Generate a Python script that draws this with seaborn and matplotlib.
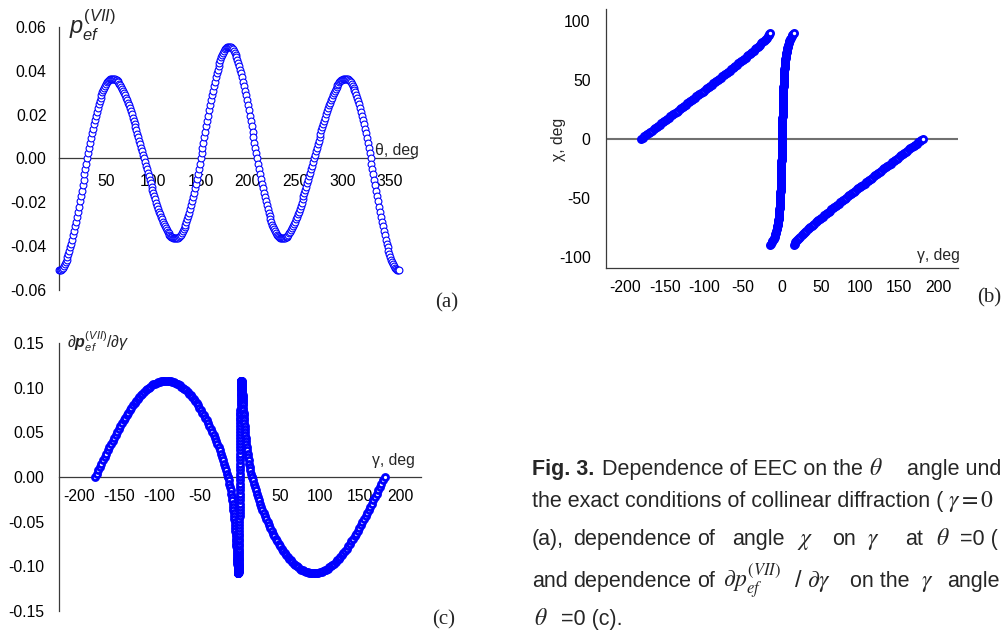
import numpy as np
import matplotlib
matplotlib.use("Agg")
import matplotlib.pyplot as plt
import seaborn as sns
from matplotlib.ticker import MultipleLocator, FixedLocator, FormatStrFormatter

sns.set_theme(style="white")
plt.rcParams['font.family'] = ['Liberation Sans', 'DejaVu Sans']
plt.rcParams['axes.unicode_minus'] = False
plt.rcParams['mathtext.fontset'] = 'custom'
plt.rcParams['mathtext.rm'] = 'Liberation Sans'
plt.rcParams['mathtext.it'] = 'Liberation Sans:italic'
plt.rcParams['mathtext.bf'] = 'Liberation Sans:italic:bold'
plt.rcParams['mathtext.fallback'] = 'stix'

# ---------------- data ----------------
# (a) p_ef^(VII) versus theta, theta = 0..360 deg in 1 deg steps
THETA = np.arange(0, 361)
P_EF = [
    -0.0510, -0.0509, -0.0507, -0.0503, -0.0498, -0.0491, -0.0483, -0.0473, -0.0462, -0.0450,
    -0.0436, -0.0422, -0.0406, -0.0388, -0.0370, -0.0351, -0.0331, -0.0310, -0.0289, -0.0266,
    -0.0243, -0.0220, -0.0196, -0.0172, -0.0147, -0.0123, -0.0098, -0.0073, -0.0049, -0.0024,
    0.0000, 0.0024, 0.0047, 0.0071, 0.0093, 0.0115, 0.0136, 0.0157, 0.0177, 0.0196,
    0.0214, 0.0231, 0.0247, 0.0262, 0.0277, 0.0290, 0.0302, 0.0313, 0.0323, 0.0332,
    0.0340, 0.0347, 0.0352, 0.0357, 0.0361, 0.0363, 0.0364, 0.0365, 0.0364, 0.0363,
    0.0360, 0.0357, 0.0352, 0.0347, 0.0341, 0.0334, 0.0326, 0.0318, 0.0309, 0.0299,
    0.0289, 0.0278, 0.0266, 0.0254, 0.0242, 0.0229, 0.0215, 0.0201, 0.0187, 0.0173,
    0.0158, 0.0143, 0.0128, 0.0112, 0.0096, 0.0081, 0.0065, 0.0049, 0.0032, 0.0016,
    0.0000,
    -0.0016, -0.0032, -0.0049, -0.0065, -0.0081, -0.0096, -0.0112, -0.0128, -0.0143, -0.0158,
    -0.0173, -0.0187, -0.0201, -0.0215, -0.0229, -0.0242, -0.0254, -0.0266, -0.0278, -0.0289,
    -0.0299, -0.0309, -0.0318, -0.0326, -0.0334, -0.0341, -0.0347, -0.0352, -0.0357, -0.0360,
    -0.0363, -0.0364, -0.0365, -0.0364, -0.0363, -0.0361, -0.0357, -0.0352, -0.0347, -0.0340,
    -0.0332, -0.0323, -0.0313, -0.0302, -0.0290, -0.0277, -0.0262, -0.0247, -0.0231, -0.0214,
    -0.0196, -0.0177, -0.0157, -0.0136, -0.0115, -0.0093, -0.0071, -0.0047, -0.0024, 0.0000,
    0.0024, 0.0049, 0.0073, 0.0098, 0.0123, 0.0147, 0.0172, 0.0196, 0.0220, 0.0243,
    0.0266, 0.0289, 0.0310, 0.0331, 0.0351, 0.0370, 0.0388, 0.0406, 0.0422, 0.0436,
    0.0450, 0.0462, 0.0473, 0.0483, 0.0491, 0.0498, 0.0503, 0.0507, 0.0509, 0.0510,
    0.0509, 0.0507, 0.0503, 0.0498, 0.0491, 0.0483, 0.0473, 0.0462, 0.0450, 0.0436,
    0.0422, 0.0406, 0.0388, 0.0370, 0.0351, 0.0331, 0.0310, 0.0289, 0.0266, 0.0243,
    0.0220, 0.0196, 0.0172, 0.0147, 0.0123, 0.0098, 0.0073, 0.0049, 0.0024, 0.0000,
    -0.0024, -0.0047, -0.0071, -0.0093, -0.0115, -0.0136, -0.0157, -0.0177, -0.0196, -0.0214,
    -0.0231, -0.0247, -0.0262, -0.0277, -0.0290, -0.0302, -0.0313, -0.0323, -0.0332, -0.0340,
    -0.0347, -0.0352, -0.0357, -0.0361, -0.0363, -0.0364, -0.0365, -0.0364, -0.0363, -0.0360,
    -0.0357, -0.0352, -0.0347, -0.0341, -0.0334, -0.0326, -0.0318, -0.0309, -0.0299, -0.0289,
    -0.0278, -0.0266, -0.0254, -0.0242, -0.0229, -0.0215, -0.0201, -0.0187, -0.0173, -0.0158,
    -0.0143, -0.0128, -0.0112, -0.0096, -0.0081, -0.0065, -0.0049, -0.0032, -0.0016, 0.0000,
    0.0016, 0.0032, 0.0049, 0.0065, 0.0081, 0.0096, 0.0112, 0.0128, 0.0143, 0.0158,
    0.0173, 0.0187, 0.0201, 0.0215, 0.0229, 0.0242, 0.0254, 0.0266, 0.0278, 0.0289,
    0.0299, 0.0309, 0.0318, 0.0326, 0.0334, 0.0341, 0.0347, 0.0352, 0.0357, 0.0360,
    0.0363, 0.0364, 0.0365, 0.0364, 0.0363, 0.0361, 0.0357, 0.0352, 0.0347, 0.0340,
    0.0332, 0.0323, 0.0313, 0.0302, 0.0290, 0.0277, 0.0262, 0.0247, 0.0231, 0.0214,
    0.0196, 0.0177, 0.0157, 0.0136, 0.0115, 0.0093, 0.0071, 0.0047, 0.0024, 0.0000,
    -0.0024, -0.0049, -0.0073, -0.0098, -0.0123, -0.0147, -0.0172, -0.0196, -0.0220, -0.0243,
    -0.0266, -0.0289, -0.0310, -0.0331, -0.0351, -0.0370, -0.0388, -0.0406, -0.0422, -0.0436,
    -0.0450, -0.0462, -0.0473, -0.0483, -0.0491, -0.0498, -0.0503, -0.0507, -0.0509, -0.0510,
]

# (b), (c): three branches, sampled in chi at 1 deg steps
CHI_LEFT = np.arange(0, 91)       # chi = 0 .. 90
CHI_CENTRE = np.arange(-90, 91)   # chi = -90 .. 90
CHI_RIGHT = np.arange(-90, 1)     # chi = -90 .. 0

GAMMA_LEFT = [
    -180.00, -178.03, -176.07, -174.10, -172.14, -170.17, -168.21, -166.24, -164.27, -162.31,
    -160.34, -158.38, -156.41, -154.45, -152.49, -150.52, -148.56, -146.60, -144.63, -142.67,
    -140.71, -138.75, -136.79, -134.83, -132.87, -130.91, -128.95, -126.99, -125.03, -123.08,
    -121.12, -119.17, -117.21, -115.26, -113.31, -111.36, -109.41, -107.46, -105.51, -103.56,
    -101.62, -99.68, -97.73, -95.79, -93.86, -91.92, -89.99, -88.05, -86.12, -84.20,
    -82.27, -80.35, -78.43, -76.52, -74.61, -72.70, -70.79, -68.89, -67.00, -65.11,
    -63.23, -61.35, -59.48, -57.61, -55.75, -53.90, -52.06, -50.23, -48.42, -46.61,
    -44.81, -43.03, -41.27, -39.53, -37.80, -36.09, -34.41, -32.75, -31.12, -29.53,
    -27.96, -26.44, -24.96, -23.52, -22.13, -20.79, -19.51, -18.29, -17.13, -16.03,
    -15.00,
]
GAMMA_CENTRE = [
    -15.00, -14.03, -13.13, -12.29, -11.51, -10.79, -10.13, -9.52, -8.96, -8.44,
    -7.96, -7.53, -7.12, -6.75, -6.41, -6.09, -5.80, -5.53, -5.27, -5.03,
    -4.81, -4.61, -4.42, -4.23, -4.06, -3.90, -3.75, -3.61, -3.48, -3.35,
    -3.23, -3.11, -3.00, -2.89, -2.79, -2.70, -2.61, -2.52, -2.43, -2.35,
    -2.27, -2.20, -2.12, -2.05, -1.99, -1.92, -1.86, -1.79, -1.73, -1.68,
    -1.62, -1.56, -1.51, -1.46, -1.41, -1.36, -1.31, -1.26, -1.21, -1.17,
    -1.12, -1.08, -1.03, -0.99, -0.95, -0.91, -0.87, -0.83, -0.79, -0.75,
    -0.71, -0.67, -0.63, -0.60, -0.56, -0.52, -0.49, -0.45, -0.41, -0.38,
    -0.34, -0.31, -0.27, -0.24, -0.21, -0.17, -0.14, -0.10, -0.07, -0.03,
    0.00,
    0.03, 0.07, 0.10, 0.14, 0.17, 0.21, 0.24, 0.27, 0.31, 0.34,
    0.38, 0.41, 0.45, 0.49, 0.52, 0.56, 0.60, 0.63, 0.67, 0.71,
    0.75, 0.79, 0.83, 0.87, 0.91, 0.95, 0.99, 1.03, 1.08, 1.12,
    1.17, 1.21, 1.26, 1.31, 1.36, 1.41, 1.46, 1.51, 1.56, 1.62,
    1.68, 1.73, 1.79, 1.86, 1.92, 1.99, 2.05, 2.12, 2.20, 2.27,
    2.35, 2.43, 2.52, 2.61, 2.70, 2.79, 2.89, 3.00, 3.11, 3.23,
    3.35, 3.48, 3.61, 3.75, 3.90, 4.06, 4.23, 4.42, 4.61, 4.81,
    5.03, 5.27, 5.53, 5.80, 6.09, 6.41, 6.75, 7.12, 7.53, 7.96,
    8.44, 8.96, 9.52, 10.13, 10.79, 11.51, 12.29, 13.13, 14.03, 15.00,
]
GAMMA_RIGHT = [
    15.00, 16.03, 17.13, 18.29, 19.51, 20.79, 22.13, 23.52, 24.96, 26.44,
    27.96, 29.53, 31.12, 32.75, 34.41, 36.09, 37.80, 39.53, 41.27, 43.03,
    44.81, 46.61, 48.42, 50.23, 52.06, 53.90, 55.75, 57.61, 59.48, 61.35,
    63.23, 65.11, 67.00, 68.89, 70.79, 72.70, 74.61, 76.52, 78.43, 80.35,
    82.27, 84.20, 86.12, 88.05, 89.99, 91.92, 93.86, 95.79, 97.73, 99.68,
    101.62, 103.56, 105.51, 107.46, 109.41, 111.36, 113.31, 115.26, 117.21, 119.17,
    121.12, 123.08, 125.03, 126.99, 128.95, 130.91, 132.87, 134.83, 136.79, 138.75,
    140.71, 142.67, 144.63, 146.60, 148.56, 150.52, 152.49, 154.45, 156.41, 158.38,
    160.34, 162.31, 164.27, 166.24, 168.21, 170.17, 172.14, 174.10, 176.07, 178.03,
    180.00,
]

DP_LEFT = [
    0.0000, 0.0038, 0.0075, 0.0113, 0.0150, 0.0188, 0.0225, 0.0261, 0.0298, 0.0334,
    0.0369, 0.0405, 0.0439, 0.0473, 0.0507, 0.0540, 0.0572, 0.0604, 0.0635, 0.0665,
    0.0694, 0.0723, 0.0750, 0.0777, 0.0803, 0.0827, 0.0851, 0.0874, 0.0895, 0.0916,
    0.0935, 0.0954, 0.0971, 0.0987, 0.1001, 0.1015, 0.1027, 0.1038, 0.1048, 0.1056,
    0.1064, 0.1069, 0.1074, 0.1077, 0.1079, 0.1080, 0.1079, 0.1077, 0.1074, 0.1069,
    0.1064, 0.1056, 0.1048, 0.1038, 0.1027, 0.1015, 0.1001, 0.0987, 0.0971, 0.0954,
    0.0935, 0.0916, 0.0895, 0.0874, 0.0851, 0.0827, 0.0803, 0.0777, 0.0750, 0.0723,
    0.0694, 0.0665, 0.0635, 0.0604, 0.0572, 0.0540, 0.0507, 0.0473, 0.0439, 0.0405,
    0.0369, 0.0334, 0.0298, 0.0261, 0.0225, 0.0188, 0.0150, 0.0113, 0.0075, 0.0038,
    0.0000,
]
DP_CENTRE = [
    0.0000, -0.0038, -0.0075, -0.0113, -0.0150, -0.0188, -0.0225, -0.0261, -0.0298, -0.0334,
    -0.0369, -0.0405, -0.0439, -0.0473, -0.0507, -0.0540, -0.0572, -0.0604, -0.0635, -0.0665,
    -0.0694, -0.0723, -0.0750, -0.0777, -0.0803, -0.0827, -0.0851, -0.0874, -0.0895, -0.0916,
    -0.0935, -0.0954, -0.0971, -0.0987, -0.1001, -0.1015, -0.1027, -0.1038, -0.1048, -0.1056,
    -0.1064, -0.1069, -0.1074, -0.1077, -0.1079, -0.1080, -0.1079, -0.1077, -0.1074, -0.1069,
    -0.1064, -0.1056, -0.1048, -0.1038, -0.1027, -0.1015, -0.1001, -0.0987, -0.0971, -0.0954,
    -0.0935, -0.0916, -0.0895, -0.0874, -0.0851, -0.0827, -0.0803, -0.0777, -0.0750, -0.0723,
    -0.0694, -0.0665, -0.0635, -0.0604, -0.0572, -0.0540, -0.0507, -0.0473, -0.0439, -0.0405,
    -0.0369, -0.0334, -0.0298, -0.0261, -0.0225, -0.0188, -0.0150, -0.0113, -0.0075, -0.0038,
    0.0000,
    0.0038, 0.0075, 0.0113, 0.0150, 0.0188, 0.0225, 0.0261, 0.0298, 0.0334, 0.0369,
    0.0405, 0.0439, 0.0473, 0.0507, 0.0540, 0.0572, 0.0604, 0.0635, 0.0665, 0.0694,
    0.0723, 0.0750, 0.0777, 0.0803, 0.0827, 0.0851, 0.0874, 0.0895, 0.0916, 0.0935,
    0.0954, 0.0971, 0.0987, 0.1001, 0.1015, 0.1027, 0.1038, 0.1048, 0.1056, 0.1064,
    0.1069, 0.1074, 0.1077, 0.1079, 0.1080, 0.1079, 0.1077, 0.1074, 0.1069, 0.1064,
    0.1056, 0.1048, 0.1038, 0.1027, 0.1015, 0.1001, 0.0987, 0.0971, 0.0954, 0.0935,
    0.0916, 0.0895, 0.0874, 0.0851, 0.0827, 0.0803, 0.0777, 0.0750, 0.0723, 0.0694,
    0.0665, 0.0635, 0.0604, 0.0572, 0.0540, 0.0507, 0.0473, 0.0439, 0.0405, 0.0369,
    0.0334, 0.0298, 0.0261, 0.0225, 0.0188, 0.0150, 0.0113, 0.0075, 0.0038, 0.0000,
]
DP_RIGHT = [
    0.0000, -0.0038, -0.0075, -0.0113, -0.0150, -0.0188, -0.0225, -0.0261, -0.0298, -0.0334,
    -0.0369, -0.0405, -0.0439, -0.0473, -0.0507, -0.0540, -0.0572, -0.0604, -0.0635, -0.0665,
    -0.0694, -0.0723, -0.0750, -0.0777, -0.0803, -0.0827, -0.0851, -0.0874, -0.0895, -0.0916,
    -0.0935, -0.0954, -0.0971, -0.0987, -0.1001, -0.1015, -0.1027, -0.1038, -0.1048, -0.1056,
    -0.1064, -0.1069, -0.1074, -0.1077, -0.1079, -0.1080, -0.1079, -0.1077, -0.1074, -0.1069,
    -0.1064, -0.1056, -0.1048, -0.1038, -0.1027, -0.1015, -0.1001, -0.0987, -0.0971, -0.0954,
    -0.0935, -0.0916, -0.0895, -0.0874, -0.0851, -0.0827, -0.0803, -0.0777, -0.0750, -0.0723,
    -0.0694, -0.0665, -0.0635, -0.0604, -0.0572, -0.0540, -0.0507, -0.0473, -0.0439, -0.0405,
    -0.0369, -0.0334, -0.0298, -0.0261, -0.0225, -0.0188, -0.0150, -0.0113, -0.0075, -0.0038,
    0.0000,
]

A_XTICKS = [50, 100, 150, 200, 250, 300, 350]
B_YTICKS = [-100, -50, 0, 50, 100]

# ---------------- figure ----------------
W, H = 1005, 633
fig = plt.figure(figsize=(W / 100, H / 100), dpi=100)


def rect(x0, y0, x1, y1):
    return [x0 / W, 1 - y1 / H, (x1 - x0) / W, (y1 - y0) / H]


def px(x, y):
    return x / W, 1 - y / H


BLUE = '#0000ff'
SP = '#3a3a3a'
TS = 11.3


def style(ax, zero_axis=True):
    ax.set_facecolor('none')
    for s in ['top', 'right']:
        ax.spines[s].set_visible(False)
    for s in ['left', 'bottom']:
        ax.spines[s].set_color(SP)
        ax.spines[s].set_linewidth(0.9)
    if zero_axis:
        ax.spines['bottom'].set_position(('data', 0))
    ax.tick_params(which='both', direction='out', colors=SP, labelcolor='black',
                   labelsize=TS, width=0.8)
    ax.tick_params(which='major', length=4)
    ax.tick_params(which='minor', length=2)
    ax.grid(False)
    ax.set_xlabel('')
    ax.set_ylabel('')


# (a)
axA = fig.add_axes(rect(59, 27, 413, 290))
sns.scatterplot(x=THETA, y=P_EF, ax=axA, marker='o', s=24, color='white',
                edgecolor=BLUE, linewidth=0.8, legend=False, clip_on=False, zorder=3)
axA.set_xlim(0, 375)
axA.set_ylim(-0.06, 0.06)
style(axA)
axA.xaxis.set_major_locator(FixedLocator(A_XTICKS))
axA.xaxis.set_minor_locator(MultipleLocator(25))
axA.yaxis.set_major_locator(MultipleLocator(0.02))
axA.yaxis.set_minor_locator(MultipleLocator(0.01))
axA.yaxis.set_major_formatter(FormatStrFormatter('%.2f'))
axA.tick_params(axis='x', pad=7)
axA.tick_params(axis='y', pad=5)

# (b)
axB = fig.add_axes(rect(606, 9.3, 958, 268.3))
axB.axhline(0, color='#707070', lw=1.5, zorder=1)
for g, ch in [(GAMMA_LEFT, CHI_LEFT), (GAMMA_CENTRE, CHI_CENTRE), (GAMMA_RIGHT, CHI_RIGHT)]:
    sns.scatterplot(x=g, y=ch, ax=axB, marker='o', s=20, color='white',
                    edgecolor=BLUE, linewidth=2.0, legend=False, zorder=3)
axB.set_xlim(-225, 225)
axB.set_ylim(-110, 110)
style(axB, zero_axis=False)
axB.xaxis.set_major_locator(MultipleLocator(50))
axB.xaxis.set_minor_locator(MultipleLocator(25))
axB.yaxis.set_major_locator(FixedLocator(B_YTICKS))
axB.yaxis.set_minor_locator(MultipleLocator(25))
axB.tick_params(axis='x', pad=4.5)
axB.tick_params(axis='y', pad=7)

# (c)
axC = fig.add_axes(rect(59, 343.3, 420.7, 610.7))
for g, d in [(GAMMA_LEFT, DP_LEFT), (GAMMA_CENTRE, DP_CENTRE), (GAMMA_RIGHT, DP_RIGHT)]:
    sns.scatterplot(x=g, y=d, ax=axC, marker='o', s=19, color='white',
                    edgecolor=BLUE, linewidth=2.0, legend=False, zorder=3)
axC.set_xlim(-225, 225)
axC.set_ylim(-0.15, 0.15)
style(axC)
axC.xaxis.set_major_locator(MultipleLocator(50))
axC.xaxis.set_minor_locator(MultipleLocator(25))
axC.yaxis.set_major_locator(MultipleLocator(0.05))
axC.yaxis.set_minor_locator(MultipleLocator(0.025))
axC.yaxis.set_major_formatter(FormatStrFormatter('%.2f'))
axC.tick_params(axis='x', pad=4.5)
axC.tick_params(axis='y', pad=6.5)

# axis titles
fig.text(*px(69, 34), r'$p_{ef}^{(VII)}$', fontsize=17, va='baseline', ha='left')
fig.text(*px(375, 155), 'θ, deg', fontsize=TS, va='baseline', ha='left')
fig.text(*px(960, 260), 'γ, deg', fontsize=TS, va='baseline', ha='right')
fig.text(*px(558, 139), 'χ, deg', fontsize=TS, va='center', ha='center', rotation=90)
fig.text(*px(67, 347), r'$\partial\mathbf{p}_{ef}^{(VII)}/\partial\gamma$', fontsize=11.5,
         va='baseline', ha='left')
fig.text(*px(372, 465), 'γ, deg', fontsize=TS, va='baseline', ha='left')

SERIF = ['Liberation Serif', 'DejaVu Serif']
fig.text(*px(447, 303), '(a)', fontsize=15, family=SERIF, va='center', ha='center')
fig.text(*px(989, 298), '(b)', fontsize=15, family=SERIF, va='center', ha='center')
fig.text(*px(444, 620), '(c)', fontsize=15, family=SERIF, va='center', ha='center')

# caption: the visible part of the page text, piece by piece
CS = 15.5
MS = 17


def cap(x, y, s, size=CS, **kw):
    fig.text(*px(x, y), s, fontsize=size, va='baseline', ha='left',
             math_fontfamily='stix', **kw)


cap(532, 475, 'Fig. 3.', fontweight='bold')
cap(602, 475, 'Dependence of EEC on the')
cap(869, 475, r'$\theta$', MS)
cap(907, 475, 'angle und')

cap(532, 507, 'the exact conditions of collinear diffraction (')
cap(948, 507, r'$\gamma = 0$', MS)

cap(532, 545, '(a),')
cap(573, 545, 'dependence')
cap(697, 545, 'of')
cap(732, 545, 'angle')
cap(797, 545, r'$\chi$', MS)
cap(832, 545, 'on')
cap(867, 545, r'$\gamma$', MS)
cap(905, 545, 'at')
cap(936, 545, r'$\theta$', MS)
cap(960, 545, '=0 (')

cap(532, 587, 'and')
cap(573, 587, 'dependence')
cap(697, 587, 'of')
cap(723, 587, r'$\partial p_{ef}^{(VII)}$', MS)
cap(794, 587, r'/ $\partial\gamma$', MS)
cap(850, 587, 'on the')
cap(921, 587, r'$\gamma$', MS)
cap(947, 587, 'angle')

cap(534, 625, r'$\theta$', MS)
cap(561, 625, '=0 (c).')

fig.savefig('out.png', dpi=100)
